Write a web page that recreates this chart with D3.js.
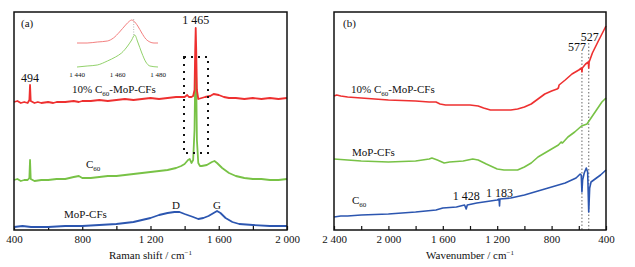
<!DOCTYPE html>
<html>
<head>
<meta charset="utf-8">
<script src="https://cdn.jsdelivr.net/npm/d3@7"></script>
<style>
body { margin: 0; background: #fff; }
text { font-family: "Liberation Serif", "Times New Roman", serif; fill: #111; }
</style>
</head>
<body>
<div id="root"></div>
<script>
// (a) Raman spectra, [Raman shift, intensity a.u.]
var ramanC60MoP = [[400,128],[420,129],[440,127],[460,128],[480,127],[490,130],[494,145],[498,129],[520,127],[540,128],[560,127],[600,128],[630,127],[650,128],[700,128],[750,129],[780,128],[800,129],[850,129],[900,130],[950,129],[1000,130],[1050,131],[1100,130],[1150,131],[1200,132],[1250,131],[1300,132],[1350,133],[1400,133],[1415,135],[1425,133],[1440,133],[1450,134],[1458,140],[1462,180],[1465,202],[1468,180],[1472,140],[1480,131],[1500,132],[1520,133],[1550,134],[1570,136],[1600,135],[1630,133],[1660,132],[1700,132],[1750,131],[1800,132],[1850,131],[1900,132],[1950,131],[2000,132]];
var ramanC60 = [[400,50],[420,51],[440,49],[460,50],[480,50],[490,52],[494,70],[498,51],[520,49],[560,50],[600,50],[650,51],[700,51],[750,53],[780,54],[800,52],[850,52],[900,53],[950,54],[1000,54],[1050,55],[1100,56],[1150,57],[1200,58],[1250,59],[1300,60],[1350,62],[1380,64],[1400,66],[1420,70],[1430,71],[1440,67],[1450,70],[1458,100],[1462,150],[1465,170],[1468,150],[1472,90],[1480,67],[1490,64],[1500,64],[1530,65],[1560,68],[1575,69],[1590,67],[1620,62],[1660,57],[1700,54],[1750,52],[1800,51],[1850,51],[1900,50],[1950,50],[2000,51]];
var ramanMoP = [[400,3],[450,4],[500,3],[600,3],[700,4],[800,4],[900,5],[1000,6],[1100,8],[1150,10],[1200,12],[1250,15],[1300,17],[1340,18],[1370,18],[1400,16],[1450,13],[1480,11],[1510,12],[1540,14],[1570,17],[1590,19],[1610,17],[1640,12],[1680,8],[1720,6],[1800,5],[1900,4],[2000,4]];

// inset of (a), 1 440-1 480 cm-1
var insetC60MoP = [[1440,27],[1445,27],[1450,28],[1455,29],[1458,32],[1461,38],[1464,45],[1466,49],[1467,50],[1468,49],[1470,44],[1472,37],[1474,31],[1476,28],[1478,27],[1480,27]];
var insetC60 = [[1440,3],[1445,4],[1450,5],[1455,9],[1459,13],[1462,17],[1465,24],[1467,30],[1468.5,35],[1470,28],[1472,17],[1474,8],[1476,4],[1480,3]];

// (b) FTIR spectra, [wavenumber, transmittance a.u.]
var ftirC60MoP = [[2400,134],[2380,135],[2350,134],[2300,133],[2200,132],[2000,130],[1800,129],[1700,128],[1650,128],[1620,126],[1580,125],[1500,125],[1400,125],[1340,124],[1300,122],[1250,120],[1200,120],[1100,120],[1050,121],[1000,123],[950,126],[900,131],[850,136],[800,139],[760,141],[750,142],[745,145],[700,150],[650,156],[600,160],[580,162],[577,158],[574,162],[550,166],[530,168],[527,162],[524,168],[500,177],[460,188],[430,196],[400,204]];
var ftirMoP = [[2400,71],[2300,70],[2200,69],[2000,68],[1800,69],[1700,71],[1680,72],[1640,70],[1590,67],[1550,68],[1450,69],[1380,71],[1340,70],[1280,66],[1200,61],[1150,60],[1050,60],[1000,63],[950,67],[900,73],[850,77],[800,81],[750,85],[730,88],[720,87],[680,93],[630,98],[580,104],[540,106],[520,110],[470,120],[430,128],[400,132]];
var ftirC60 = [[2400,13],[2350,14],[2300,14],[2200,15],[2000,16],[1800,18],[1650,20],[1600,22],[1500,23],[1440,25],[1428,21],[1420,25],[1350,27],[1250,29],[1200,30],[1186,31],[1183,24],[1180,31],[1100,32],[1000,35],[900,39],[800,43],[700,47],[620,52],[590,56],[582,55],[577,38],[572,50],[560,57],[545,62],[535,58],[527,18],[520,42],[510,48],[480,51],[440,55],[400,60]];

var ticksA = d3.range(400, 2001, 200);
var ticksB = d3.range(400, 2401, 200);
var insetTicks = [1440, 1460, 1480];
var ftirMarks = [577, 527];

var red = "#ee3030", green = "#78c246", blue = "#2c56b0";
var fmt = d3.formatLocale({decimal: ".", thousands: " ", grouping: [3], currency: ["", ""]}).format(",");

var svg = d3.select("#root").append("svg")
    .attr("width", 635).attr("height", 267);

var plotTop = 12, plotBottom = 230;

function panel(x, title, label) {
    var y = d3.scaleLinear().domain([0, plotBottom - plotTop]).range([plotBottom, plotTop]);
    var line = d3.line().x(d => x(d[0])).y(d => y(d[1]));
    var g = svg.append("g");
    var ticks = x.domain()[0] < x.domain()[1] ? ticksA : ticksB;
    g.append("g")
        .attr("transform", "translate(0," + plotBottom + ")")
        .call(d3.axisBottom(x).tickValues(ticks).tickSizeInner(-4).tickSizeOuter(0).tickPadding(5)
            .tickFormat(d => d % 400 === 0 ? fmt(d) : ""))
        .call(a => a.select(".domain").remove())
        .call(a => a.selectAll("line").attr("stroke", "#111").attr("stroke-width", 1.2))
        .call(a => a.selectAll("text").attr("font-size", 11).attr("font-family", "Liberation Serif").attr("fill", "#111"));
    var xr = x.range();
    var t = g.append("text").attr("x", (xr[0] + xr[1]) / 2).attr("y", 259)
        .attr("text-anchor", "middle").attr("font-size", 11).text(title);
    t.append("tspan").text("\u2212" + "1").attr("font-size", 7).attr("dy", -4);
    g.append("text").attr("x", d3.min(xr) + (label == "(a)" ? 7 : 9)).attr("y", 27)
        .attr("font-size", 11).text(label);
    return {g: g, y: y, line: line};
}

function c60label(g, x, y, before, after) {
    var t = g.append("text").attr("x", x).attr("y", y).attr("font-size", 11);
    t.append("tspan").text(before + "C");
    t.append("tspan").text("60").attr("font-size", 7).attr("dy", 3);
    if (after) t.append("tspan").text(after).attr("dy", -3);
}

// ---------- (a) ----------
var xA = d3.scaleLinear().domain([400, 2000]).range([14, 287]);
var pa = panel(xA, "Raman shift / cm", "(a)");
[[ramanMoP, blue], [ramanC60, green], [ramanC60MoP, red]].forEach(function (s) {
    pa.g.append("path").datum(s[0]).attr("fill", "none").attr("stroke", s[1])
        .attr("stroke-width", 1.8).attr("stroke-linejoin", "round").attr("d", pa.line);
});
pa.g.append("rect").attr("x", 184).attr("y", 57).attr("width", 24).attr("height", 96)
    .attr("fill", "none").attr("stroke", "#111").attr("stroke-width", 2).attr("stroke-dasharray", "2,5");
pa.g.append("text").attr("x", xA(494)).attr("y", 82).attr("text-anchor", "middle").attr("font-size", 12).text("494");
pa.g.append("text").attr("x", xA(1465)).attr("y", 24).attr("text-anchor", "middle").attr("font-size", 12).text("1 465");
c60label(pa.g, 72, 93, "10% ", "-MoP-CFs");
c60label(pa.g, 86, 168, "", "");
pa.g.append("text").attr("x", 64).attr("y", 218).attr("font-size", 11).text("MoP-CFs");
pa.g.append("text").attr("x", xA(1350)).attr("y", 209).attr("text-anchor", "middle").attr("font-size", 11).text("D");
pa.g.append("text").attr("x", xA(1590)).attr("y", 209).attr("text-anchor", "middle").attr("font-size", 11).text("G");

// inset
var xi = d3.scaleLinear().domain([1440, 1480]).range([77, 158]);
var yi = d3.scaleLinear().domain([0, 50]).range([70, 20]);
var li = d3.line().x(d => xi(d[0])).y(d => yi(d[1])).curve(d3.curveMonotoneX);
pa.g.append("path").datum(insetC60MoP).attr("fill", "none").attr("stroke", "#f07070").attr("stroke-width", 0.9).attr("d", li);
pa.g.append("path").datum(insetC60).attr("fill", "none").attr("stroke", "#86cc5a").attr("stroke-width", 0.9).attr("d", li);
pa.g.append("line").attr("x1", xi(1468)).attr("x2", xi(1468)).attr("y1", yi(51)).attr("y2", yi(34))
    .attr("stroke", "#999").attr("stroke-width", 0.7).attr("stroke-dasharray", "1,1.5");
pa.g.selectAll(".it").data(insetTicks).enter().append("text")
    .attr("x", d => xi(d)).attr("y", 77).attr("text-anchor", "middle").attr("font-size", 7).text(d => fmt(d));

// ---------- (b) ----------
var xB = d3.scaleLinear().domain([2400, 400]).range([334, 606]);
var pb = panel(xB, "Wavenumber / cm", "(b)");
pb.g.selectAll(".mark").data(ftirMarks).enter().append("line")
    .attr("x1", d => xB(d)).attr("x2", d => xB(d))
    .attr("y1", (d, i) => i === 0 ? 53 : 43).attr("y2", plotBottom)
    .attr("stroke", "#777").attr("stroke-width", 1.1).attr("stroke-dasharray", "1.5,2");
[[ftirC60, blue], [ftirMoP, green], [ftirC60MoP, red]].forEach(function (s) {
    pb.g.append("path").datum(s[0]).attr("fill", "none").attr("stroke", s[1])
        .attr("stroke-width", 1.6).attr("stroke-linejoin", "round").attr("d", pb.line);
});
pb.g.selectAll(".ml").data(ftirMarks).enter().append("text")
    .attr("x", (d, i) => xB(d) + (i === 0 ? -5 : 1)).attr("y", (d, i) => i === 0 ? 51 : 41)
    .attr("text-anchor", "middle").attr("font-size", 12).text(d => d);
c60label(pb.g, 351, 93, "10% ", "-MoP-CFs");
pb.g.append("text").attr("x", 352).attr("y", 156).attr("font-size", 11).text("MoP-CFs");
c60label(pb.g, 352, 204, "", "");
pb.g.append("text").attr("x", xB(1428)).attr("y", 200).attr("text-anchor", "middle").attr("font-size", 12).text("1 428");
pb.g.append("text").attr("x", xB(1183)).attr("y", 197).attr("text-anchor", "middle").attr("font-size", 12).text("1 183");

// frames
[[14, 287], [334, 606]].forEach(function (r) {
    svg.append("rect").attr("x", r[0]).attr("y", plotTop).attr("width", r[1] - r[0]).attr("height", plotBottom - plotTop)
        .attr("fill", "none").attr("stroke", "#111").attr("stroke-width", 1.5);
});
</script>
</body>
</html>
